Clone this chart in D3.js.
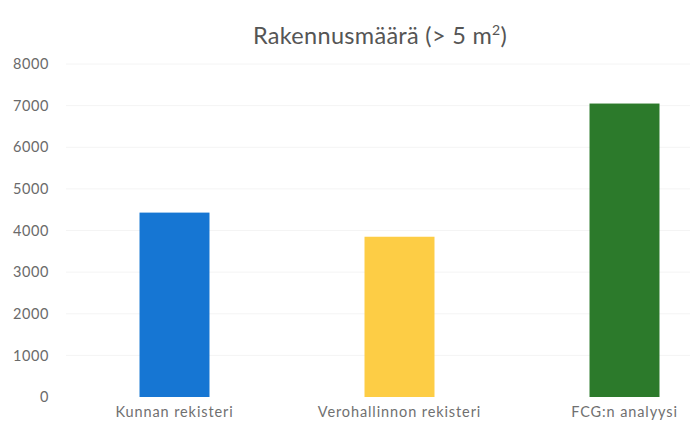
<!DOCTYPE html>
<html>
<head>
<meta charset="utf-8">
<script src="https://cdn.jsdelivr.net/npm/d3@7"></script>
<style>
  body { margin: 0; background: #fff; }
  text { font-family: Lato, "Open Sans", sans-serif; }
</style>
</head>
<body>
<svg width="690" height="428"></svg>
<script>
var categories = ["Kunnan rekisteri", "Verohallinnon rekisteri", "FCG:n analyysi"];
var values = [4430, 3850, 7050];
var colors = ["#1676d3", "#fdcd45", "#2c7a2b"];
var yTicks = [0, 1000, 2000, 3000, 4000, 5000, 6000, 7000, 8000];

var svg = d3.select("svg"),
    margin = { top: 64, bottom: 31, left: 62 },
    height = +svg.attr("height") - margin.top - margin.bottom;

// plot area runs past the right edge (cropped reference)
var x = d3.scaleBand()
    .domain(categories)
    .range([margin.left, margin.left + 675])
    .paddingInner(0.689)
    .paddingOuter(0.3445);

var y = d3.scaleLinear()
    .domain([0, 8000])
    .range([margin.top + height, margin.top]);

// gridlines
svg.append("g")
    .selectAll("line")
    .data(yTicks.slice(1))
    .enter().append("line")
    .attr("x1", 66)
    .attr("x2", 690)
    .attr("y1", function(d) { return y(d); })
    .attr("y2", function(d) { return y(d); })
    .attr("stroke", "#f4f4f4")
    .attr("stroke-width", 1);

var yAxis = d3.axisLeft(y).tickValues(yTicks).tickFormat(d3.format("d")).tickSize(0).tickPadding(13);
svg.append("g")
    .attr("transform", "translate(" + margin.left + ",0)")
    .call(yAxis)
    .call(function(g) { g.select(".domain").remove(); })
    .selectAll("text")
    .attr("font-size", 14.5)
    .attr("letter-spacing", 0.6)
    .attr("fill", "#6a6a6a");

svg.append("g")
    .selectAll("rect")
    .data(values)
    .enter().append("rect")
    .attr("x", function(d, i) { return x(categories[i]); })
    .attr("y", function(d) { return y(d); })
    .attr("width", x.bandwidth())
    .attr("height", function(d) { return y(0) - y(d); })
    .attr("fill", function(d, i) { return colors[i]; });

var xAxis = d3.axisBottom(x).tickSize(0).tickPadding(10);
svg.append("g")
    .attr("transform", "translate(0," + y(0) + ")")
    .call(xAxis)
    .call(function(g) { g.select(".domain").remove(); })
    .selectAll("text")
    .attr("font-size", 14.5)
    .attr("letter-spacing", 0.9)
    .attr("fill", "#707070");

var title = svg.append("text")
    .attr("x", 380)
    .attr("y", 44)
    .attr("text-anchor", "middle")
    .attr("font-size", 23.5)
    .attr("letter-spacing", 0.3)
    .attr("fill", "#555");
title.append("tspan").text("Rakennusmäärä (> 5 m");
title.append("tspan").attr("font-size", 14).attr("dy", -9).text("2");
title.append("tspan").attr("dy", 9).text(")");
</script>
</body>
</html>
